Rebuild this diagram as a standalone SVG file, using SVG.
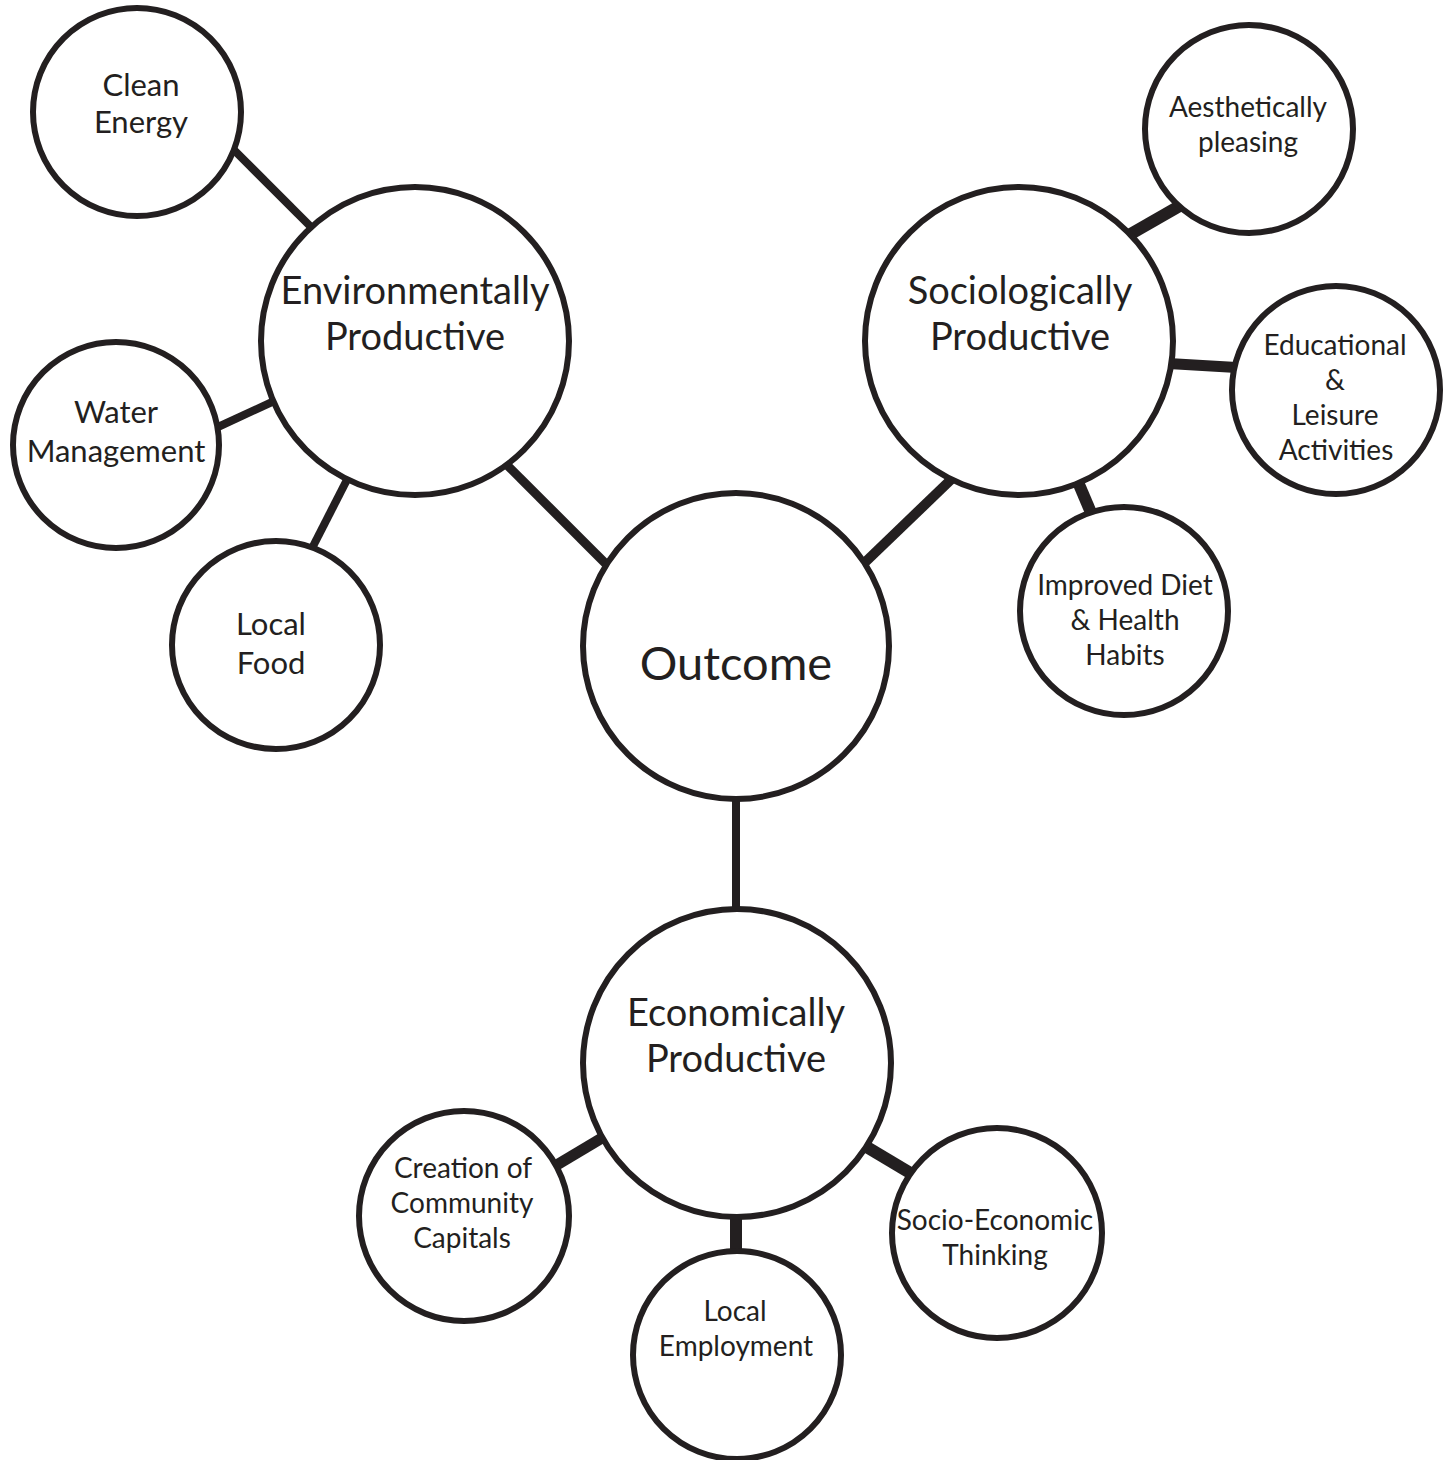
<svg xmlns="http://www.w3.org/2000/svg" width="1450" height="1460" viewBox="0 0 1450 1460">
<style>
.node{fill:#fff;stroke:#231f20;stroke-width:6}
.c{stroke:#231f20;fill:none}
text{font-family:Lato,"Open Sans",sans-serif;fill:#231f20;text-anchor:middle}
.s{font-size:28px}
.m{font-size:31px}
.b{font-size:38px}
.o{font-size:47px}
</style>
<rect width="1450" height="1460" fill="#fff"/>
<g id="connectors">
<line class="c" x1="220" y1="136" x2="325" y2="241" stroke-width="8"/>
<line class="c" x1="205" y1="433" x2="285" y2="396" stroke-width="8"/>
<line class="c" x1="305" y1="562" x2="353" y2="468" stroke-width="8"/>
<line class="c" x1="495" y1="453" x2="615" y2="573" stroke-width="9"/>
<line class="c" x1="962" y1="469" x2="856" y2="571" stroke-width="10"/>
<line class="c" x1="1190" y1="200" x2="1115" y2="243" stroke-width="12"/>
<line class="c" x1="1160" y1="363" x2="1245" y2="368" stroke-width="11"/>
<line class="c" x1="1075" y1="475" x2="1095" y2="522" stroke-width="12"/>
<line class="c" x1="736" y1="790" x2="736" y2="920" stroke-width="8"/>
<line class="c" x1="545" y1="1172" x2="612" y2="1132" stroke-width="11"/>
<line class="c" x1="736" y1="1205" x2="736" y2="1260" stroke-width="12"/>
<line class="c" x1="855" y1="1140" x2="922" y2="1180" stroke-width="12"/>
</g>
<g id="clean-energy"><circle class="node" cx="137" cy="112" r="104"/><text class="m" x="141" y="96">Clean</text><text class="m" x="141" y="133">Energy</text></g>
<g id="water-management"><circle class="node" cx="116" cy="445" r="103"/><text class="m" x="116" y="423">Water</text><text class="m" x="116" y="462">Management</text></g>
<g id="local-food"><circle class="node" cx="276" cy="645" r="104"/><text class="m" x="271" y="635">Local</text><text class="m" x="271" y="674">Food</text></g>
<g id="environmentally-productive"><circle class="node" cx="415" cy="341" r="154"/><text class="b" x="415" y="304">Environmentally</text><text class="b" x="415" y="350">Productive</text></g>
<g id="outcome"><circle class="node" cx="736" cy="646" r="153"/><text class="o" x="736" y="680">Outcome</text></g>
<g id="sociologically-productive"><circle class="node" cx="1019" cy="341" r="154"/><text class="b" x="1020" y="304">Sociologically</text><text class="b" x="1020" y="350">Productive</text></g>
<g id="aesthetically-pleasing"><circle class="node" cx="1249" cy="129" r="104"/><text class="s" x="1248" y="117">Aesthetically</text><text class="s" x="1248" y="152">pleasing</text></g>
<g id="educational-leisure"><circle class="node" cx="1336" cy="390" r="104"/><text class="s" x="1335" y="355">Educational</text><text class="s" x="1335" y="390">&amp;</text><text class="s" x="1335" y="425">Leisure</text><text class="s" x="1336" y="460">Activities</text></g>
<g id="improved-diet"><circle class="node" cx="1124" cy="611" r="104"/><text class="s" x="1125" y="595">Improved Diet</text><text class="s" x="1125" y="630">&amp; Health</text><text class="s" x="1125" y="665">Habits</text></g>
<g id="economically-productive"><circle class="node" cx="737" cy="1063" r="154"/><text class="b" x="736" y="1026">Economically</text><text class="b" x="736" y="1072">Productive</text></g>
<g id="community-capitals"><circle class="node" cx="464" cy="1216" r="105"/><text class="s" x="463" y="1178">Creation of</text><text class="s" x="462" y="1213">Community</text><text class="s" x="462" y="1248">Capitals</text></g>
<g id="local-employment"><circle class="node" cx="737" cy="1355" r="104"/><text class="s" x="735" y="1321">Local</text><text class="s" x="736" y="1356">Employment</text></g>
<g id="socio-economic"><circle class="node" cx="997" cy="1233" r="105"/><text class="s" x="995" y="1230">Socio-Economic</text><text class="s" x="995" y="1265">Thinking</text></g>
</svg>
